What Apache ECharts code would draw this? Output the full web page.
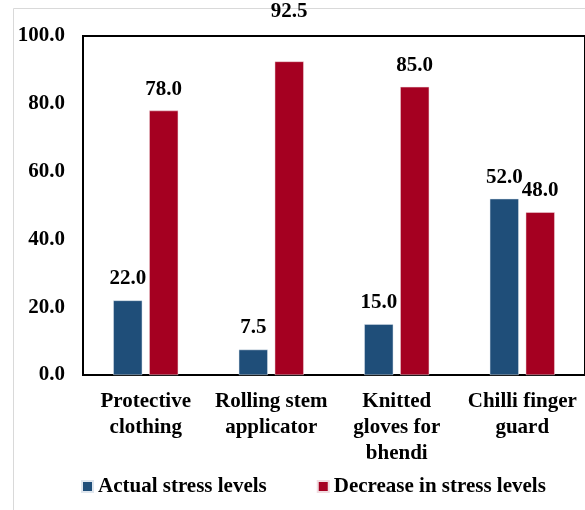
<!DOCTYPE html>
<html>
<head>
<meta charset="utf-8">
<script src="https://cdn.jsdelivr.net/npm/echarts@6/dist/echarts.min.js"></script>
<style>
html,body{margin:0;padding:0;background:#fff;}
</style>
</head>
<body>
<div id="chart" style="width:585px;height:510px;"></div>
<script>
var categories = ['Protective\nclothing', 'Rolling stem\napplicator', 'Knitted\ngloves for\nbhendi', 'Chilli finger\nguard'];
var actualStress = [22.0, 7.5, 15.0, 52.0];
var decreaseStress = [78.0, 92.5, 85.0, 48.0];
var yTicks = [0, 20, 40, 60, 80, 100];

var font = '"Liberation Serif", "Times New Roman", serif';
var chart = echarts.init(document.getElementById('chart'));

var labelStyle = {
    show: true,
    position: 'top',
    distance: 11,
    fontFamily: font,
    fontWeight: 'bold',
    fontSize: 21,
    color: '#000',
    formatter: function (p) { return p.value.toFixed(1); }
};

// the tallest bar's label sits above the plot frame in the original
var decreaseData = decreaseStress.map(function (v, i) {
    if (i === 1) return { value: v, label: { offset: [0, -28] } };
    return v;
});

chart.setOption({
    animation: false,
    graphic: [{
        type: 'rect',
        shape: { x: 13.5, y: 8.5, width: 600, height: 600 },
        style: { fill: 'none', stroke: '#d9d9d9', lineWidth: 1 }
    }],
    grid: { left: 83, top: 36, width: 508, height: 339, show: true, borderColor: '#000', borderWidth: 2 },
    legend: {
        top: 471,
        left: 76,
        itemWidth: 11,
        itemHeight: 11,
        itemGap: 50,
        icon: 'rect',
        textStyle: { fontFamily: font, fontWeight: 'bold', fontSize: 21, color: '#000' },
        data: ['Actual stress levels', 'Decrease in stress levels']
    },
    xAxis: {
        type: 'category',
        data: categories,
        axisLine: { lineStyle: { color: '#000', width: 2 } },
        axisTick: { show: false },
        axisLabel: {
            interval: 0,
            margin: 14,
            fontFamily: font,
            fontWeight: 'bold',
            fontSize: 21,
            lineHeight: 26,
            color: '#000'
        }
    },
    yAxis: {
        type: 'value',
        min: yTicks[0],
        max: yTicks[yTicks.length - 1],
        interval: 20,
        axisLine: { show: true, lineStyle: { color: '#000', width: 2 } },
        axisTick: { show: false },
        splitLine: { show: false },
        axisLabel: {
            margin: 18,
            fontFamily: font,
            fontWeight: 'bold',
            fontSize: 21,
            color: '#000',
            formatter: function (v) { return v.toFixed(1); }
        }
    },
    series: [
        {
            name: 'Actual stress levels',
            type: 'bar',
            barWidth: 29,
            barGap: '24%',
            itemStyle: { color: '#1F4E79', borderColor: '#dfe6ee', borderWidth: 0.5 },
            label: labelStyle,
            data: actualStress
        },
        {
            name: 'Decrease in stress levels',
            type: 'bar',
            barWidth: 29,
            itemStyle: { color: '#A50021', borderColor: '#f0dce0', borderWidth: 0.5 },
            label: labelStyle,
            data: decreaseData
        }
    ]
});
</script>
</body>
</html>
